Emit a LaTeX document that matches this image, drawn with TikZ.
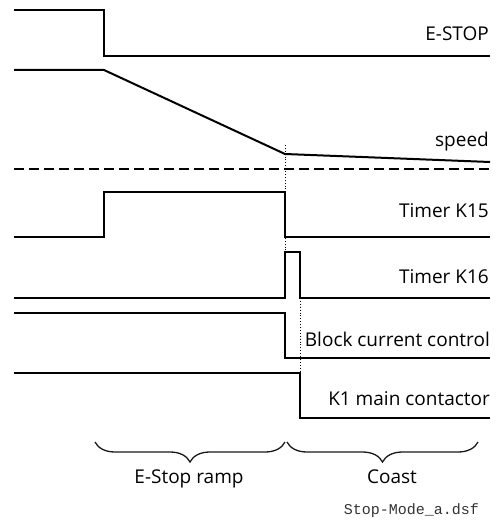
\documentclass[tikz,border=0pt]{standalone}
\usepackage{fontspec}
\setmainfont{Open Sans}
\setmonofont{Liberation Mono}
\usetikzlibrary{decorations.pathreplacing}
\begin{document}
\begin{tikzpicture}[x=1pt,y=-1pt,
  wave/.style={line width=2pt,line join=miter},
  guide/.style={line width=0.9pt,dotted},
  zeroline/.style={line width=2pt,dash pattern=on 10pt off 5pt},
  lbl/.style={anchor=base east,inner sep=0pt,font=\fontsize{19}{21}\selectfont},
  phase/.style={anchor=base,inner sep=0pt,font=\fontsize{19}{21}\selectfont},
  bracestyle/.style={line width=1.3pt,draw=black!90,decorate,decoration={brace,mirror,amplitude=20pt}},
  fname/.style={anchor=base east,inner sep=0pt,text=black!80,font=\ttfamily\fontsize{15}{17}\selectfont}]
\useasboundingbox (0,0) rectangle (500,521);
% E-STOP
\draw[wave] (14,10) -- (104,10) -- (104,56) -- (490,56);
\node[lbl] (estop) at (489,41) {E-STOP};
% speed
\draw[wave] (14,70) -- (104,70) -- (285,154) -- (490,162);
\node[lbl] (speed) at (489,147) {speed};
% zero line
\draw[zeroline] (14,169) -- (490,169);
% Timer K15
\draw[wave] (14,237) -- (104,237) -- (104,192) -- (285,192) -- (285,237) -- (490,237);
\node[lbl] (k15) at (489,218) {Timer K15};
% Timer K16
\draw[wave] (14,298) -- (285,298) -- (285,252) -- (300,252) -- (300,298) -- (490,298);
\node[lbl] (k16) at (489,283) {Timer K16};
% Block current control
\draw[wave] (14,313) -- (285,313) -- (285,358) -- (490,358);
\node[lbl] (bcc) at (490,346) {Block current control};
% K1 main contactor
\draw[wave] (14,373) -- (300,373) -- (300,418) -- (490,418);
\node[lbl] (k1) at (490,405) {K1 main contactor};
% guides
\draw[guide] (285,145) -- (285,252);
\draw[guide] (300,298) -- (300,373);
% braces
\draw[bracestyle] (95,442) -- (285,442);
\draw[bracestyle] (287,442) -- (478,442);
\node[phase] (ramp) at (189,483) {E-Stop ramp};
\node[phase] (coast) at (392,483) {Coast};
\node[fname] (file) at (479,514) {Stop-Mode\_a.dsf};
\end{tikzpicture}
\end{document}
